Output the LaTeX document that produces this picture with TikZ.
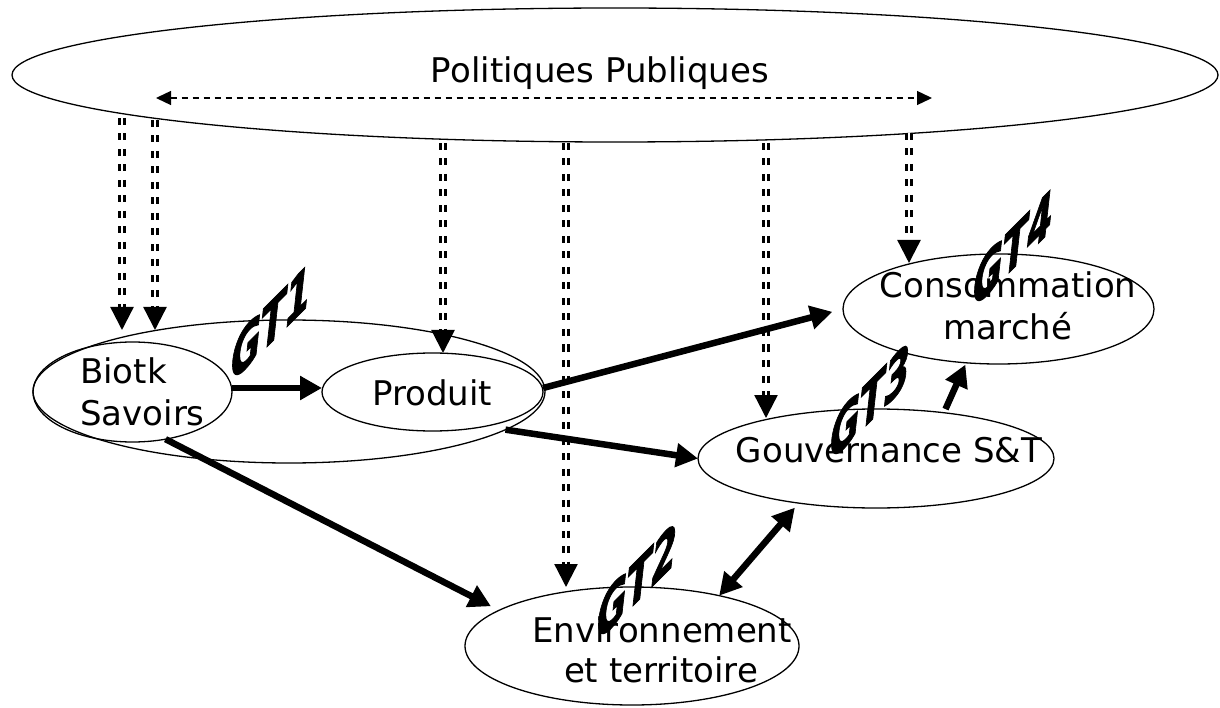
\documentclass[tikz,border=0pt]{standalone}
\usepackage{fontspec}
\setmainfont{DejaVu Sans}
\newfontfamily\gtfont[FakeBold=2]{DejaVu Sans}
\usetikzlibrary{shapes.geometric,arrows.meta}
\begin{document}
\begin{tikzpicture}[x=1pt,y=-1pt,
  ell/.style={draw, ellipse, line width=1.3pt, inner sep=0pt, outer sep=0pt},
  lbl/.style={font=\fontsize{34}{40}\selectfont, inner sep=0pt, anchor=base},
  thickarrow/.style={line width=6.5pt, -{Triangle[length=22pt,width=23pt]}},
  boththick/.style={line width=6.5pt, {Triangle[length=22pt,width=23pt]}-{Triangle[length=22pt,width=23pt]}},
  dbl/.style={line width=2.4pt, double, double distance=2.6pt, dash pattern=on 7pt off 8.5pt, -{Triangle[length=23pt,width=23pt]}},
  hdash/.style={line width=1.3pt, dash pattern=on 6.7pt off 4.3pt, {Triangle[length=15pt,width=14pt]}-{Triangle[length=15pt,width=14pt]}},
  gt/.style={font=\gtfont\bfseries\itshape\fontsize{57}{57}\selectfont, inner sep=0pt, xscale=0.64, yslant=0.64}
]
\fill[white] (0,0) rectangle (1220,708);
\useasboundingbox (0,0) rectangle (1220,708);

% ellipses
\node[ell, minimum width=1206pt, minimum height=134pt] (pol) at (615,75) {};
\node[ell, minimum width=512pt, minimum height=143pt] (gt1) at (289,391.5) {};
\node[ell, minimum width=199pt, minimum height=100pt] (bio) at (132.5,392) {};
\node[ell, minimum width=221pt, minimum height=78pt] (prod) at (432.5,392) {};
\node[ell, minimum width=311pt, minimum height=110pt] (cons) at (998.5,309) {};
\node[ell, minimum width=356pt, minimum height=99pt] (gouv) at (876,458.5) {};
\node[ell, minimum width=334pt, minimum height=118pt] (env) at (632,646) {};

% texts
\node[lbl] (tpol) at (600,83) {Politiques Publiques};
\node[lbl, anchor=base west] (tbio1) at (80,383) {Biotk};
\node[lbl, anchor=base west] (tbio2) at (80,425) {Savoirs};
\node[lbl] (tprod) at (432,405) {Produit};
\node[lbl] (tcons1) at (1008,298) {Consommation};
\node[lbl] (tcons2) at (1008,339) {marché};
\node[lbl] (tgouv) at (889,462) {Gouvernance S\&T};
\node[lbl] (tenv1) at (662,642) {Environnement};
\node[lbl] (tenv2) at (661,682) {et territoire};

% horizontal dashed arrow
\coordinate (h1) at (156,98);
\coordinate (h2) at (932,98);
\draw[hdash] (h1) -- (h2);

% vertical double dashed arrows
\coordinate (v1s) at (122,118); \coordinate (v1e) at (122,330);
\coordinate (v2s) at (155,120); \coordinate (v2e) at (155,330);
\coordinate (v3s) at (443,143); \coordinate (v3e) at (443,353);
\coordinate (v4s) at (566,143); \coordinate (v4e) at (566,587);
\coordinate (v5s) at (766,143); \coordinate (v5e) at (766,418);
\coordinate (v6s) at (909,133); \coordinate (v6e) at (909,263);
\foreach \i in {1,...,6} {\draw[dbl] (v\i s) -- (v\i e);}

% thick arrows
\draw[thickarrow] ([yshift=4pt]bio.east) -- ([yshift=4pt]prod.west);
\draw[thickarrow, shorten >=11pt] ([yshift=4pt]prod.east) -- (cons.west);
\draw[thickarrow] (gt1.-10) -- (gouv.west);
\draw[thickarrow, shorten >=9pt] (bio.-55) -- (env.165.6);
\draw[thickarrow, shorten <=4pt, shorten >=2pt] (gouv.34.4) -- (cons.-121);
\draw[boththick, shorten >=6pt] (env.30) -- (gouv.210);

% GT labels
\node[gt] (gta) at (271,322) {GT1};
\node[gt] (gtb) at (637,581) {GT2};
\node[gt] (gtc) at (870,401) {GT3};
\node[gt] (gtd) at (1013,248) {GT4};
\end{tikzpicture}
\end{document}
